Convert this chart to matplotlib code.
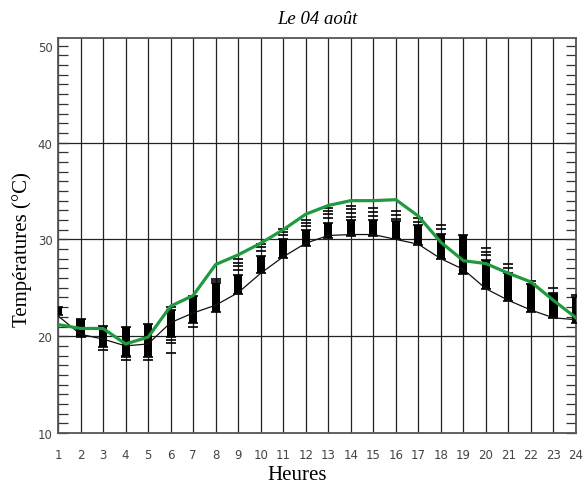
import matplotlib
matplotlib.use("Agg")
import matplotlib.pyplot as plt
import numpy as np

hours = list(range(1, 25))
green = [21.2, 20.8, 20.8, 19.2, 19.9, 23.1, 24.2, 27.4, 28.4, 29.6, 31.0, 32.6,
         33.5, 34.0, 34.0, 34.1, 32.4, 29.7, 27.8, 27.5, 26.5, 25.6, 23.7, 21.9]
black = [22.1, 20.2, 19.7, 19.0, 19.2, 21.4, 22.4, 23.2, 24.5, 26.5, 28.2, 29.6,
         30.4, 30.5, 30.5, 30.0, 29.5, 28.0, 26.9, 24.9, 23.7, 22.7, 21.9, 21.7]
# ensemble spread: dense block low/high and isolated members
block_lo = [22.2, 19.9, 18.9, 18.0, 17.9, 19.9, 21.4, 22.5, 24.4, 26.5, 28.1, 29.3,
            30.1, 30.4, 30.4, 30.0, 29.4, 28.0, 26.4, 24.9, 23.6, 22.5, 21.9, 21.4]
block_hi = [23.0, 21.8, 21.1, 20.9, 21.3, 22.7, 24.2, 25.5, 26.3, 28.3, 30.0, 31.0,
            31.7, 32.0, 32.0, 31.9, 31.5, 30.6, 30.5, 27.9, 26.5, 25.4, 24.4, 24.0]
outliers = [[], [], [18.6], [17.8, 17.5], [17.5], [23.0, 19.6, 19.3, 18.3],
            [21.0], [25.9, 25.7], [28.0, 27.6, 27.2, 26.8], [29.5, 29.2, 28.8],
            [31.1, 30.8, 30.5], [32.0, 31.7, 31.4], [33.2, 32.9, 32.6, 32.2],
            [33.4, 33.1, 32.7, 32.3], [33.2, 32.8, 32.4], [32.9, 32.5, 32.1],
            [32.2, 31.8], [31.5, 31.1], [], [29.1, 28.7, 28.4], [27.5, 27.0],
            [25.7], [25.0, 24.5], [24.3]]

title = "Le 04 août"
xlabel = "Heures"
ylabel = "Températures (°C)"

fig = plt.figure(figsize=(5.85, 4.89), dpi=100)
ax = fig.add_axes([58/585, 1-434/489, (576-58)/585, (434-39)/489])

serif = ["Liberation Serif", "DejaVu Serif"]

# grid
for h in hours:
    ax.axvline(h, color="#222222", lw=0.9, zorder=1)
for yv in [20, 30, 40]:
    ax.axhline(yv, color="#222222", lw=0.9, zorder=1)

# ensemble
ax.bar(hours, np.array(block_hi) - np.array(block_lo), bottom=block_lo,
       width=0.36, color="black", zorder=3)
for h, lo, hi, outs in zip(hours, block_lo, block_hi, outliers):
    ys = [lo, hi] + outs
    ax.plot([h] * len(ys), ys, ls="none", marker="_", ms=7, mew=1.2,
            color="black", zorder=3)

ax.plot(hours, black, color="#111111", lw=0.9, zorder=4)
ax.plot(hours, green, color="#1f9a3e", lw=2.3, zorder=5)

ax.set_xlim(1, 24)
ax.set_ylim(10, 50.8)
ax.set_xticks(hours)
ax.set_yticks([10, 20, 30, 40, 50])
ax.set_yticks(np.arange(11, 51), minor=True)
ax.tick_params(axis="x", length=0, pad=11, labelsize=8.5, labelcolor="#444444")
ax.tick_params(axis="y", which="both", direction="in", left=True, right=True,
               length=7, width=0.9, color="#333333", pad=4, labelsize=8.5,
               labelcolor="#444444")
for s in ax.spines.values():
    s.set_color("#555555")
    s.set_linewidth(1.3)

fig.text(0.5 * (58 + 576) / 585, 1 - 19/489, title, ha="center", va="center",
         fontsize=13.5, style="italic", family=serif)
fig.text(297/585, 1 - 476/489, xlabel, ha="center", va="center",
         fontsize=15, family=serif)
fig.text(22/585, 1 - 250/489, ylabel, ha="center", va="center", rotation=90,
         fontsize=15, family=serif)

fig.savefig("out.png", dpi=100)
